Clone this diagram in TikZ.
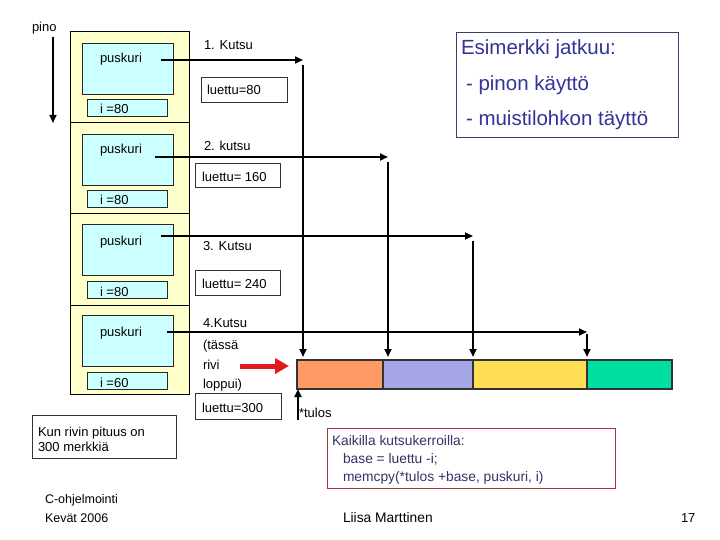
\documentclass[tikz,border=0pt]{standalone}
\usepackage{fontspec}
\setmainfont{Liberation Sans}
\usetikzlibrary{arrows.meta}
\definecolor{framey}{HTML}{FFFFCC}
\definecolor{bufc}{HTML}{CCFFFF}
\definecolor{navy}{HTML}{333399}
\definecolor{navyb}{HTML}{3C3C78}
\definecolor{redb}{HTML}{A83240}
\definecolor{codec}{HTML}{333366}
\definecolor{sega}{HTML}{FF9966}
\definecolor{segb}{HTML}{A6A6E6}
\definecolor{segc}{HTML}{FFDD55}
\definecolor{segd}{HTML}{00DFA3}
\definecolor{redarrow}{HTML}{E01B1B}
\tikzset{
  frame/.style={draw=black, line width=0.8pt, fill=framey, minimum width=119pt},
  buf/.style={draw=black!85, line width=0.8pt, fill=bufc, minimum width=91pt, minimum height=51pt},
  ibox/.style={draw=black!85, line width=0.8pt, fill=bufc, minimum width=80pt, minimum height=17pt},
  lbox/.style={draw=black!80, line width=0.7pt, minimum width=85pt, minimum height=25pt},
  txt/.style={anchor=base west, font=\fontsize{13}{15}\selectfont},
  small/.style={anchor=base west, font=\fontsize{12.5}{14}\selectfont},
  big/.style={anchor=base west, text=navy, font=\fontsize{20.5}{24}\selectfont},
  code/.style={anchor=base west, text=codec, font=\fontsize{13.8}{16}\selectfont},
  seg/.style={draw=black!80, line width=1.2pt, minimum height=29pt},
  conn/.style={line width=2pt, -{Triangle[length=8pt,width=7pt]}},
}
\begin{document}
\begin{tikzpicture}[x=1pt,y=-1pt, every node/.style={inner sep=0pt, outer sep=0pt}]
\useasboundingbox[fill=white] (0,0) rectangle (720,540);

% stack label
\node[txt] (pino) at (32,32) {pino};
\coordinate (pa) at (53,37);
\coordinate (pb) at (53,123);
\draw[line width=1.5pt, -{Triangle[length=8pt,width=7pt]}] (pa) -- (pb);

% stack frames
\node[frame, minimum height=91pt] (f1) at (129.5,76.5) {};
\node[frame, minimum height=91pt] (f2) at (129.5,167.5) {};
\node[frame, minimum height=92pt] (f3) at (129.5,259) {};
\node[frame, minimum height=89pt] (f4) at (129.5,349.5) {};

\node[buf] (b1) at (127.5,68.5) {};
\node[buf] (b2) at (127.5,159.5) {};
\node[buf] (b3) at (127.5,250) {};
\node[buf] (b4) at (127.5,341) {};
\node[txt] (bt1) at (100,63) {puskuri};
\node[txt] (bt2) at (100,154) {puskuri};
\node[txt] (bt3) at (100,245) {puskuri};
\node[txt] (bt4) at (100,336) {puskuri};

\node[ibox] (i1) at (127,107.5) {};
\node[ibox] (i2) at (127,198.5) {};
\node[ibox] (i3) at (127,290) {};
\node[ibox] (i4) at (127,380.5) {};
\node[txt] (it1) at (100,114) {i =80};
\node[txt] (it2) at (100,205) {i =80};
\node[txt] (it3) at (100,296) {i =80};
\node[txt] (it4) at (100,387) {i =60};

% call labels
\node[txt] (k1) at (204,50) {1. Kutsu};
\node[txt] (k2) at (204,151) {2. kutsu};
\node[txt] (k3) at (203,251) {3. Kutsu};
\node[txt] (k4a) at (203,327) {4.Kutsu};
\node[txt] (k4b) at (203,349) {(tässä};
\node[txt] (k4c) at (203,369) {rivi};
\node[txt] (k4d) at (203,388) {loppui)};

% luettu boxes
\node[lbox, minimum width=86pt] (L1) at (244,89.5) {};
\node[txt] (L1t) at (207,95) {luettu=80};
\node[lbox, minimum height=24pt] (L2) at (237.5,175) {};
\node[txt] (L2t) at (202,182) {luettu= 160};
\node[lbox] (L3) at (237.5,282.5) {};
\node[txt] (L3t) at (202,288) {luettu= 240};
\node[lbox, minimum width=86pt, minimum height=26pt] (L4) at (238,406) {};
\node[txt] (L4t) at (202,412) {luettu=300};

% memory block
\node[seg, fill=sega, minimum width=86pt] (s1) at (340,374.5) {};
\node[seg, fill=segb, minimum width=90pt] (s2) at (428,374.5) {};
\node[seg, fill=segc, minimum width=114pt] (s3) at (530,374.5) {};
\node[seg, fill=segd, minimum width=85pt] (s4) at (629.5,374.5) {};

% call connectors
\coordinate (a1) at (161,60);   \coordinate (c1) at (303,60);
\coordinate (d1) at (303,65);   \coordinate (e1) at (303,357);
\coordinate (a2) at (155,157);  \coordinate (c2) at (388,157);
\coordinate (d2) at (388,162);  \coordinate (e2) at (388,357);
\coordinate (a3) at (161,236);  \coordinate (c3) at (473,236);
\coordinate (d3) at (473,241);  \coordinate (e3) at (473,357);
\coordinate (a4) at (167,332);  \coordinate (c4) at (587,332);
\coordinate (d4) at (587,334);  \coordinate (e4) at (587,357);
\draw[conn] (a1) -- (c1);
\draw[conn] (d1) -- (e1);
\draw[conn] (a2) -- (c2);
\draw[conn] (d2) -- (e2);
\draw[conn] (a3) -- (c3);
\draw[conn] (d3) -- (e3);
\draw[conn] (a4) -- (c4);
\draw[conn] (d4) -- (e4);

% red arrow
\coordinate (ra) at (240,366);
\coordinate (rb) at (289,366);
\draw[redarrow, line width=5pt, -{Triangle[length=14pt,width=15pt]}] (ra) -- (rb);

% *tulos
\coordinate (ta) at (298,420);
\coordinate (tb) at (298,389);
\draw[conn] (ta) -- (tb);
\node[txt] (tulos) at (299,417) {*tulos};

% right info box
\node[draw=navyb, line width=0.8pt, minimum width=222pt, minimum height=105pt] (info) at (567,84.5) {};
\node[big] (inf1) at (461,55) {Esimerkki jatkuu:};
\node[big] (inf2) at (466,91) {- pinon käyttö};
\node[big] (inf3) at (466,126) {- muistilohkon täyttö};

% note box
\node[draw=black!80, line width=0.7pt, minimum width=144pt, minimum height=43pt] (note) at (104,436.5) {};
\node[txt] (n1) at (38,436) {Kun rivin pituus on};
\node[txt] (n2) at (38,451) {300 merkkiä};

% code box
\node[draw=redb, line width=0.8pt, minimum width=288pt, minimum height=60pt] (cb) at (471,458) {};
\node[code] (cl1) at (332,445) {Kaikilla kutsukerroilla:};
\node[code] (cl2) at (343,463) {base = luettu -i;};
\node[code] (cl3) at (343,481) {memcpy(*tulos +base, puskuri, i)};

% footer
\node[small] (ft1) at (45,503) {C-ohjelmointi};
\node[small] (ft2) at (45,522) {Kevät 2006};
\node[txt, font=\fontsize{13.8}{16}\selectfont] (ft3) at (343,522) {Liisa Marttinen};
\node[txt] (ft4) at (681,522) {17};
\end{tikzpicture}
\end{document}
